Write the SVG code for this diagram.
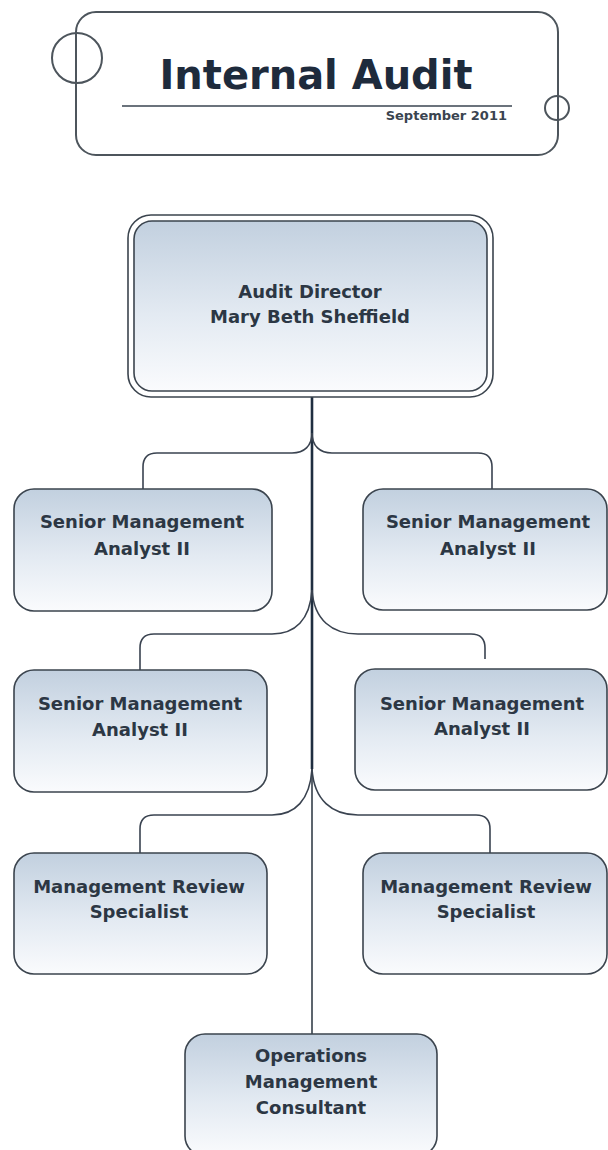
<svg xmlns="http://www.w3.org/2000/svg" width="608" height="1150" viewBox="0 0 608 1150">
<defs>
<linearGradient id="boxFill" x1="0" y1="0" x2="0" y2="1">
<stop offset="0" stop-color="#c2d0df"/>
<stop offset="0.55" stop-color="#e3eaf2"/>
<stop offset="1" stop-color="#fafbfd"/>
</linearGradient>
</defs>
<style>
.box{fill:url(#boxFill);stroke:#3b444e;stroke-width:1.6}
.lbl{font-family:"DejaVu Sans",Verdana,sans-serif;font-weight:bold;font-size:18px;fill:#2c3744;text-anchor:middle}
.conn{fill:none;stroke:#3a4350;stroke-width:1.6}
.hdr{fill:none;stroke:#4d555c;stroke-width:2}
</style>
<rect width="608" height="1150" fill="#ffffff"/>

<g id="header">
<rect class="hdr" x="76" y="12" width="482" height="143" rx="20"/>
<circle class="hdr" cx="77" cy="58" r="25"/>
<circle class="hdr" cx="557" cy="108" r="12"/>
<text x="316" y="89" font-family="DejaVu Sans,Verdana,sans-serif" font-weight="bold" font-size="40" fill="#1e2b3c" text-anchor="middle" textLength="313" lengthAdjust="spacingAndGlyphs">Internal Audit</text>
<line x1="122" y1="106" x2="512" y2="106" stroke="#3a4450" stroke-width="1.6"/>
<text x="507" y="120" font-family="DejaVu Sans,Verdana,sans-serif" font-weight="bold" font-size="13" fill="#3a4450" text-anchor="end">September 2011</text>
</g>

<g id="connectors">
<path d="M312,397 L312,769" fill="none" stroke="#1f2e40" stroke-width="2.6"/>
<path d="M312,769 L312,1034" fill="none" stroke="#5d656e" stroke-width="2"/>
<path class="conn" d="M312,433 C312,446 304,453 292,453 L157,453 Q143,453 143,467 L143,489"/>
<path class="conn" d="M312,433 C312,446 320,453 332,453 L478,453 Q492,453 492,467 L492,489"/>
<path class="conn" d="M312,590 C310,620 295,634 272,634 L154,634 Q140,634 140,648 L140,670"/>
<path class="conn" d="M312,590 C314,620 332,634 358,634 L471,634 Q485,634 485,648 L485,659"/>
<path class="conn" d="M312,769 C310,800 295,815 272,815 L154,815 Q140,815 140,829 L140,853"/>
<path class="conn" d="M312,769 C314,800 332,815 358,815 L476,815 Q490,815 490,829 L490,853"/>
</g>

<g id="director">
<rect x="128" y="215" width="365" height="182" rx="23" fill="#ffffff" stroke="#3b444e" stroke-width="1.6"/>
<rect class="box" x="134" y="221" width="353" height="170" rx="18"/>
<text class="lbl" x="310" y="298" font-size="17.5">Audit Director</text>
<text class="lbl" x="310" y="323" font-size="17.5">Mary Beth Sheffield</text>
</g>

<g id="sma-left-1">
<rect class="box" x="14" y="489" width="258" height="122" rx="20"/>
<text class="lbl" x="142" y="528">Senior Management</text>
<text class="lbl" x="142" y="555">Analyst II</text>
</g>

<g id="sma-right-1">
<rect class="box" x="363" y="489" width="244" height="121" rx="20"/>
<text class="lbl" x="488" y="528">Senior Management</text>
<text class="lbl" x="488" y="555">Analyst II</text>
</g>

<g id="sma-left-2">
<rect class="box" x="14" y="670" width="253" height="122" rx="20"/>
<text class="lbl" x="140" y="710">Senior Management</text>
<text class="lbl" x="140" y="736">Analyst II</text>
</g>

<g id="sma-right-2">
<rect class="box" x="355" y="669" width="252" height="121" rx="20"/>
<text class="lbl" x="482" y="710">Senior Management</text>
<text class="lbl" x="482" y="735">Analyst II</text>
</g>

<g id="mrs-left">
<rect class="box" x="14" y="853" width="253" height="121" rx="20"/>
<text class="lbl" x="139" y="893">Management Review</text>
<text class="lbl" x="139" y="918">Specialist</text>
</g>

<g id="mrs-right">
<rect class="box" x="363" y="853" width="244" height="121" rx="20"/>
<text class="lbl" x="486" y="893">Management Review</text>
<text class="lbl" x="486" y="918">Specialist</text>
</g>

<g id="ops">
<rect class="box" x="185" y="1034" width="252" height="122" rx="20"/>
<text class="lbl" x="311" y="1062">Operations</text>
<text class="lbl" x="311" y="1088">Management</text>
<text class="lbl" x="311" y="1114">Consultant</text>
</g>
</svg>
